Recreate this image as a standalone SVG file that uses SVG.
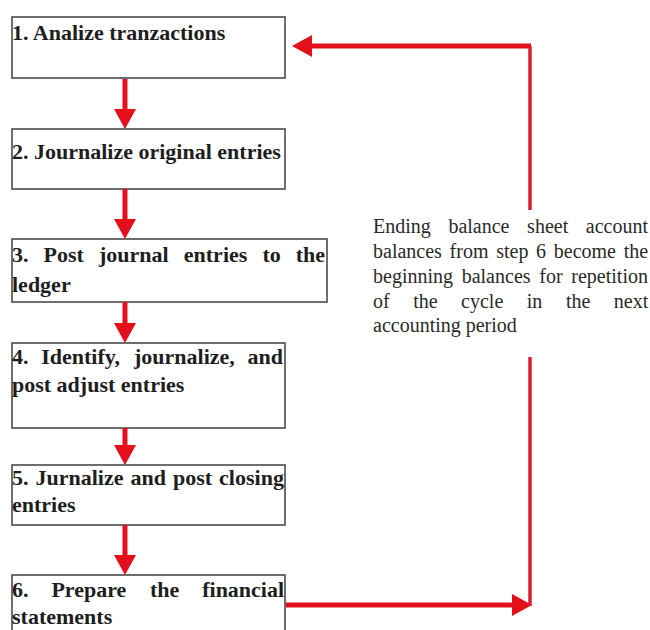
<svg xmlns="http://www.w3.org/2000/svg" width="650" height="630" viewBox="0 0 650 630">
  <style>
    .box { fill: #ffffff; stroke: #4a4a4a; stroke-width: 1.6; }
    .step { font-family: "Liberation Serif", "Times New Roman", serif; font-weight: bold; font-size: 22px; fill: #1e1e1e; }
    .note { font-family: "Liberation Serif", "Times New Roman", serif; font-size: 20px; fill: #2a2a2a; }
    .flow { fill: none; stroke: #e3101b; stroke-width: 5; }
    .loop { fill: none; stroke: #d61f35; stroke-width: 3.5; }
  </style>
  <defs>
    <marker id="head" viewBox="0 0 20 22" refX="10" refY="11" markerWidth="20" markerHeight="22" markerUnits="userSpaceOnUse" orient="auto">
      <path d="M0,0 L20,11 L0,22 Z" fill="#e3101b"/>
    </marker>
  </defs>
  <rect width="650" height="630" fill="#ffffff"/>

  <g id="step1">
    <rect class="box" x="12" y="17" width="273" height="61"/>
    <text class="step" x="12" y="40">1. Analize tranzactions</text>
  </g>
  <g id="step2">
    <rect class="box" x="12" y="129" width="273" height="60"/>
    <text class="step" x="12" y="159">2. Journalize original entries</text>
  </g>
  <g id="step3">
    <rect class="box" x="12" y="239" width="315" height="63"/>
    <!-- justified first line: words spread evenly between the box edges -->
    <text class="step" y="262"><tspan x="12">3.</tspan><tspan x="43.6">Post</tspan><tspan x="99">journal</tspan><tspan x="183.8">entries</tspan><tspan x="262.4">to</tspan><tspan x="295.8">the</tspan></text>
    <text class="step" x="12" y="292">ledger</text>
  </g>
  <g id="step4">
    <rect class="box" x="12" y="343" width="273" height="85"/>
    <text class="step" y="364"><tspan x="12">4.</tspan><tspan x="41.2">Identify,</tspan><tspan x="134">journalize,</tspan><tspan x="247.5">and</tspan></text>
    <text class="step" x="12" y="392">post adjust entries</text>
  </g>
  <g id="step5">
    <rect class="box" x="12" y="465" width="273" height="60"/>
    <text class="step" y="485"><tspan x="12">5.</tspan><tspan x="35.5">Jurnalize</tspan><tspan x="130.5">and</tspan><tspan x="173">post</tspan><tspan x="219.1">closing</tspan></text>
    <text class="step" x="12" y="512">entries</text>
  </g>
  <g id="step6">
    <rect class="box" x="12" y="575" width="273" height="70"/>
    <text class="step" y="597"><tspan x="12">6.</tspan><tspan x="51.4">Prepare</tspan><tspan x="150">the</tspan><tspan x="202.2">financial</tspan></text>
    <text class="step" x="12" y="624">statements</text>
  </g>

  <g id="cycle-note">
    <text class="note" y="233"><tspan x="373">Ending</tspan><tspan x="448.4">balance</tspan><tspan x="527.1">sheet</tspan><tspan x="585.8">account</tspan></text>
    <text class="note" y="258"><tspan x="373">balances</tspan><tspan x="449.6">from</tspan><tspan x="496.2">step</tspan><tspan x="536.1">6</tspan><tspan x="553.8">become</tspan><tspan x="623.7">the</tspan></text>
    <text class="note" y="283"><tspan x="373">beginning</tspan><tspan x="461.7">balances</tspan><tspan x="539.3">for</tspan><tspan x="571.3">repetition</tspan></text>
    <text class="note" y="308"><tspan x="373">of</tspan><tspan x="413.2">the</tspan><tspan x="461.1">cycle</tspan><tspan x="526.8">in</tspan><tspan x="565.9">the</tspan><tspan x="613.8">next</tspan></text>
    <text class="note" x="373" y="332">accounting period</text>
  </g>

  <g id="connectors">
    <!-- step-to-step arrows -->
    <path class="flow" d="M125,79 L125,119" marker-end="url(#head)"/>
    <path class="flow" d="M125,189 L125,229" marker-end="url(#head)"/>
    <path class="flow" d="M125,302 L125,333" marker-end="url(#head)"/>
    <path class="flow" d="M125,428 L125,455" marker-end="url(#head)"/>
    <path class="flow" d="M125,525 L125,565" marker-end="url(#head)"/>
    <!-- loop back from step 6 to step 1 -->
    <path class="flow" d="M286,605 L522,605" marker-end="url(#head)"/>
    <path class="loop" d="M530,606 L530,357"/>
    <path class="loop" d="M530,210 L530,46"/>
    <path class="flow" d="M531,46 L302,46" marker-end="url(#head)"/>
  </g>
</svg>
